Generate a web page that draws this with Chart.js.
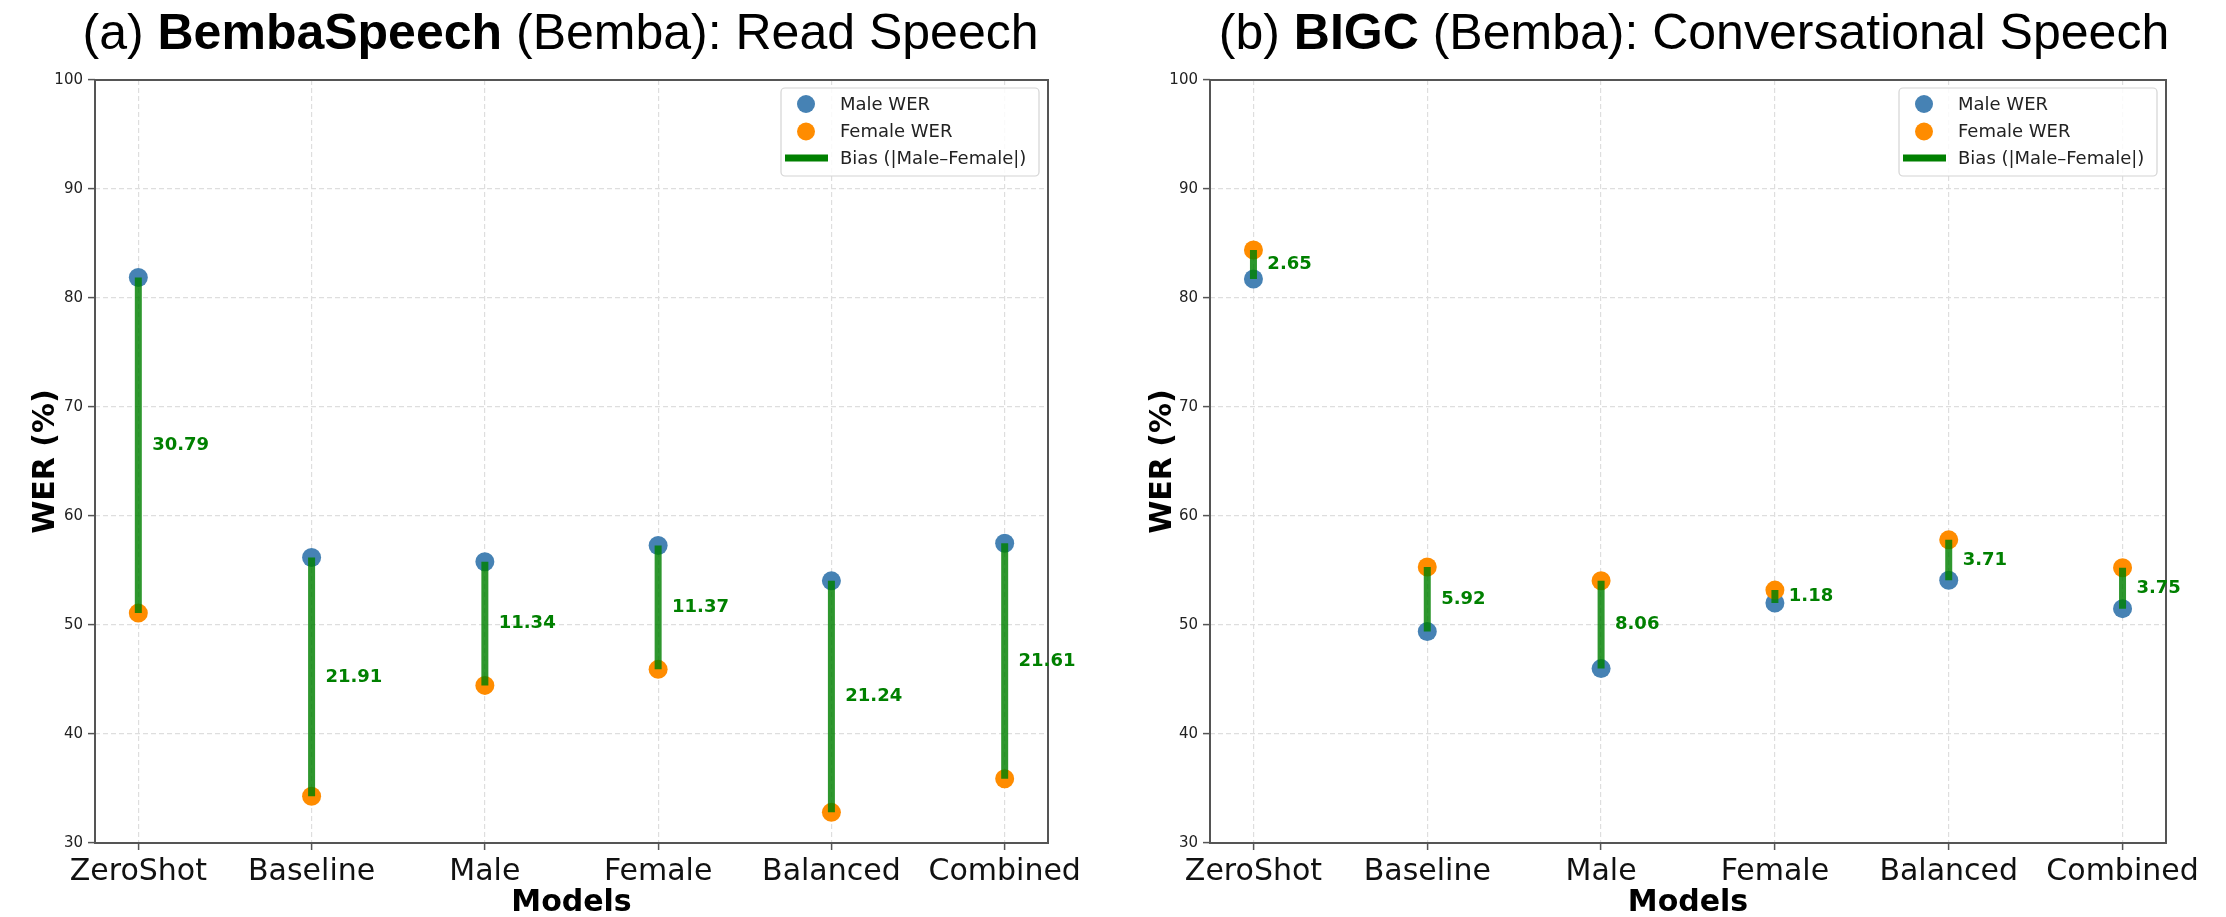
<!DOCTYPE html>
<html>
<head>
<meta charset="utf-8">
<script src="https://cdn.jsdelivr.net/npm/chart.js@4.4.1/dist/chart.umd.min.js"></script>
<style>
  html, body { margin: 0; padding: 0; background: #fff; }
  body { width: 2226px; height: 917px; position: relative; overflow: hidden; }
  .panel { position: absolute; top: 0; width: 1113px; height: 917px; }
  #panel-a { left: 0; }
  #panel-b { left: 1113px; }
</style>
</head>
<body>
<div class="panel" id="panel-a"><canvas id="chart-a" width="1113" height="917"></canvas></div>
<div class="panel" id="panel-b"><canvas id="chart-b" width="1113" height="917"></canvas></div>
<script>
// --- Data ---
const models = ['ZeroShot', 'Baseline', 'Male', 'Female', 'Balanced', 'Combined'];

// (a) BembaSpeech: read speech
const bembaMale = [81.88, 56.20, 55.80, 57.30, 54.05, 57.50];
const bembaFemale = [51.09, 34.29, 44.46, 45.93, 32.81, 35.89];
const bembaBias = ['30.79', '21.91', '11.34', '11.37', '21.24', '21.61'];

// (b) BIGC: conversational speech
const bigcMale = [81.75, 49.40, 46.00, 52.02, 54.10, 51.50];
const bigcFemale = [84.40, 55.32, 54.06, 53.20, 57.81, 55.25];
const bigcBias = ['2.65', '5.92', '8.06', '1.18', '3.71', '3.75'];

// --- Styles ---
const MALE_COLOR = '#4682b4';
const FEMALE_COLOR = '#ff8c00';
const BIAS_COLOR = 'rgba(0,128,0,0.82)';
const GRID_COLOR = '#dedede';
const SPINE_COLOR = '#555';
const FONT = 'DejaVu Sans';

Chart.defaults.font.family = FONT;

// title drawn in pieces so one word can be bold
const titlePlugin = {
    id: 'panelTitle',
    afterDraw(chart, args, opts) {
        const ctx = chart.ctx;
        const size = 50;
        const fam = '"Liberation Sans", Arial, Helvetica, sans-serif';
        ctx.save();
        ctx.fillStyle = '#000';
        ctx.textBaseline = 'alphabetic';
        let total = 0;
        opts.parts.forEach(p => {
            ctx.font = (p.bold ? 'bold ' : '') + size + 'px ' + fam;
            total += ctx.measureText(p.text).width;
        });
        const area = chart.chartArea;
        let x = (area.left + area.right) / 2 + opts.shift - total / 2;
        opts.parts.forEach(p => {
            ctx.font = (p.bold ? 'bold ' : '') + size + 'px ' + fam;
            ctx.fillText(p.text, x, 49);
            x += ctx.measureText(p.text).width;
        });
        ctx.restore();
    }
};

// frame, bias numbers, legend box
const overlayPlugin = {
    id: 'overlay',
    afterDatasetsDraw(chart, args, opts) {
        const ctx = chart.ctx;
        const area = chart.chartArea;
        const xs = chart.scales.x;
        const ys = chart.scales.y;

        // axes box
        ctx.save();
        ctx.strokeStyle = SPINE_COLOR;
        ctx.lineWidth = 2;
        ctx.strokeRect(area.left, area.top, area.right - area.left, area.bottom - area.top);
        ctx.restore();

        // bias value labels
        ctx.save();
        ctx.font = 'bold 18px ' + FONT;
        ctx.fillStyle = '#008000';
        ctx.textAlign = 'left';
        ctx.textBaseline = 'middle';
        opts.bias.forEach((txt, i) => {
            const mid = (opts.male[i] + opts.female[i]) / 2;
            ctx.fillText(txt, xs.getPixelForValue(i + 0.08), ys.getPixelForValue(mid));
        });
        ctx.restore();

        // legend
        const w = 258, h = 88;
        const left = area.right - w - 9;
        const top = area.top + 8;
        ctx.save();
        ctx.beginPath();
        ctx.roundRect(left, top, w, h, 4);
        ctx.fillStyle = 'rgba(255,255,255,0.85)';
        ctx.fill();
        ctx.strokeStyle = '#d4d4d4';
        ctx.lineWidth = 1.2;
        ctx.stroke();

        const rows = [
            { label: chart.data.datasets[2].label, kind: 'dot', color: MALE_COLOR },
            { label: chart.data.datasets[1].label, kind: 'dot', color: FEMALE_COLOR },
            { label: chart.data.datasets[0].label, kind: 'line', color: '#008000' }
        ];
        const rowY = [16, 43.5, 70];
        ctx.font = '18px ' + FONT;
        ctx.textBaseline = 'middle';
        rows.forEach((r, k) => {
            const y = top + rowY[k];
            if (r.kind === 'dot') {
                ctx.beginPath();
                ctx.arc(left + 25, y, 9, 0, Math.PI * 2);
                ctx.fillStyle = r.color;
                ctx.fill();
            } else {
                ctx.fillStyle = r.color;
                ctx.fillRect(left + 4, y - 3.5, 43, 7);
            }
            ctx.fillStyle = '#222';
            ctx.fillText(r.label, left + 59, y + 1);
        });
        ctx.restore();
    }
};

function makePanel(canvasId, male, female, bias, titleParts, layout) {
    const biasPoints = [];
    models.forEach((_, i) => {
        biasPoints.push({ x: i, y: male[i] }, { x: i, y: female[i] }, { x: i, y: null });
    });

    return new Chart(document.getElementById(canvasId), {
        data: {
            datasets: [
                {
                    type: 'line',
                    label: 'Bias (|Male\u2013Female|)',
                    data: biasPoints,
                    borderColor: BIAS_COLOR,
                    borderWidth: 7,
                    borderCapStyle: 'butt',
                    pointRadius: 0,
                    spanGaps: false,
                    order: 0
                },
                {
                    type: 'scatter',
                    label: 'Female WER',
                    data: female.map((v, i) => ({ x: i, y: v })),
                    backgroundColor: FEMALE_COLOR,
                    borderWidth: 0,
                    pointRadius: 9.5,
                    order: 1
                },
                {
                    type: 'scatter',
                    label: 'Male WER',
                    data: male.map((v, i) => ({ x: i, y: v })),
                    backgroundColor: MALE_COLOR,
                    borderWidth: 0,
                    pointRadius: 9.5,
                    order: 2
                }
            ]
        },
        options: {
            responsive: false,
            devicePixelRatio: 1,
            animation: false,
            events: [],
            layout: { padding: { left: 0, right: layout.padRight, top: 80, bottom: 0 } },
            plugins: {
                legend: { display: false },
                tooltip: { enabled: false },
                panelTitle: { parts: titleParts, shift: layout.titleShift },
                overlay: { male, female, bias }
            },
            scales: {
                x: {
                    type: 'linear',
                    min: -0.25,
                    max: 5.25,
                    afterBuildTicks: s => { s.ticks = models.map((_, i) => ({ value: i })); },
                    afterFit: s => { s.height = 74; },
                    ticks: {
                        callback: v => models[v] ?? '',
                        autoSkip: false,
                        maxRotation: 0,
                        padding: 7,
                        color: '#111',
                        font: { size: 30, lineHeight: 1 }
                    },
                    grid: {
                        color: GRID_COLOR,
                        lineWidth: 1.2,
                        tickLength: 7,
                        tickColor: SPINE_COLOR,
                        tickWidth: 1.5
                    },
                    border: { display: false, dash: [5, 3] },
                    title: {
                        display: true,
                        text: 'Models',
                        color: '#000',
                        font: { size: 30, weight: 'bold', lineHeight: 0.9 },
                        padding: { top: 0, bottom: 0 }
                    }
                },
                y: {
                    type: 'linear',
                    min: 30,
                    max: 100,
                    afterFit: s => { s.width = layout.yWidth; },
                    ticks: {
                        stepSize: 10,
                        padding: 5,
                        color: '#222',
                        font: { size: 15 }
                    },
                    grid: {
                        color: GRID_COLOR,
                        lineWidth: 1.2,
                        tickLength: 7,
                        tickColor: SPINE_COLOR,
                        tickWidth: 1.5
                    },
                    border: { display: false, dash: [5, 3] },
                    title: {
                        display: true,
                        text: 'WER (%)',
                        color: '#000',
                        font: { size: 30, weight: 'bold', lineHeight: 1 },
                        padding: { top: layout.yTitlePad, bottom: 0 }
                    }
                }
            }
        },
        plugins: [titlePlugin, overlayPlugin]
    });
}

makePanel('chart-a', bembaMale, bembaFemale, bembaBias,
    [{ text: '(a) ', bold: false }, { text: 'BembaSpeech', bold: true }, { text: ' (Bemba): Read Speech', bold: false }],
    { padRight: 65, yWidth: 95, yTitlePad: 31, titleShift: -11 });

makePanel('chart-b', bigcMale, bigcFemale, bigcBias,
    [{ text: '(b) ', bold: false }, { text: 'BIGC', bold: true }, { text: ' (Bemba): Conversational Speech', bold: false }],
    { padRight: 60, yWidth: 97, yTitlePad: 35, titleShift: 6 });
</script>
</body>
</html>
